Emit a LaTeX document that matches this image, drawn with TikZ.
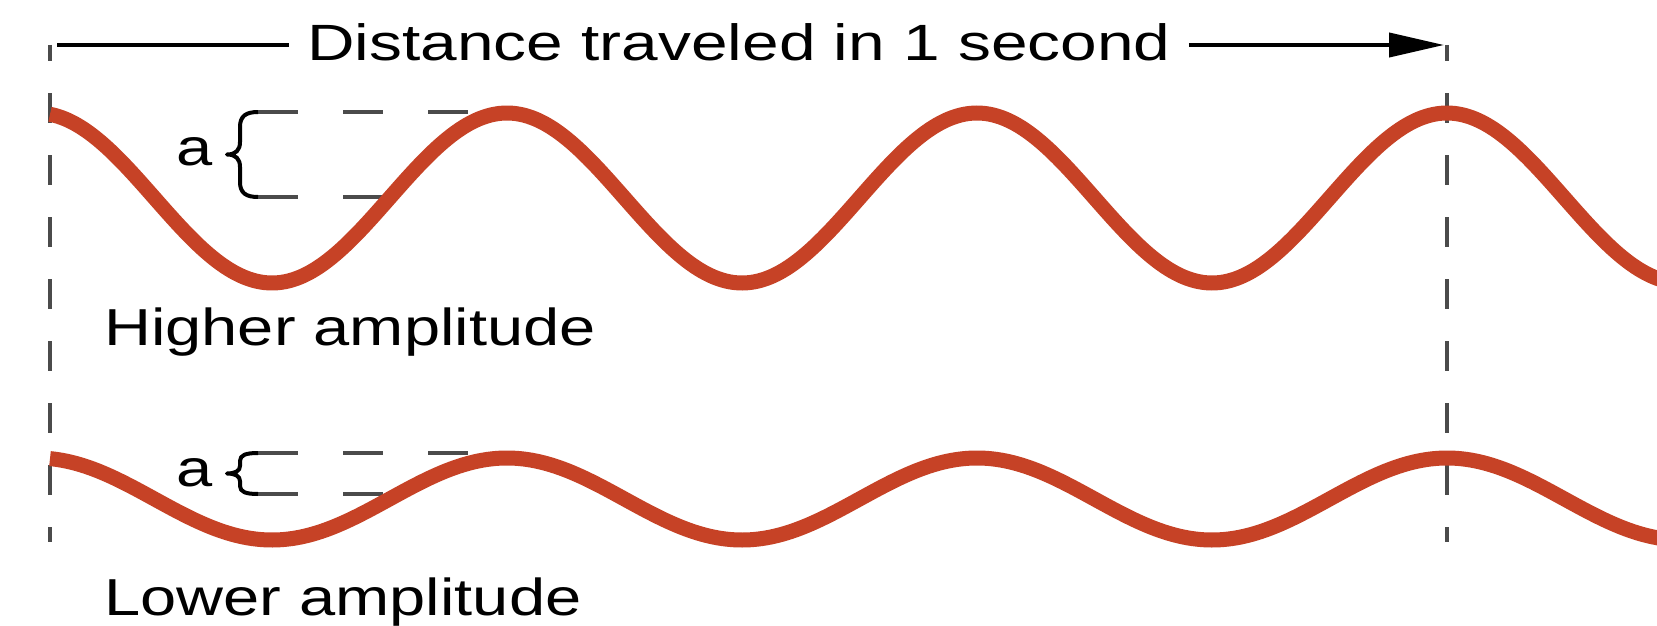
\documentclass[tikz,border=0pt]{standalone}
\usepackage{fontspec}
\setmainfont{Liberation Sans}
\usepackage{graphicx}
\usetikzlibrary{arrows.meta}
\definecolor{wavered}{RGB}{198,66,38}
\definecolor{guidegray}{RGB}{75,75,75}
\newcommand\widetext[2]{\scalebox{#1}[1]{#2}}
\begin{document}
\begin{tikzpicture}[x=1pt,y=-1pt,
  wave/.style={wavered, line width=15pt},
  vguide/.style={guidegray, line width=4pt, dash pattern=on 30pt off 32pt, dash phase=14pt},
  hguide/.style={guidegray, line width=3.5pt, dash pattern=on 40pt off 45pt},
  bracestyle/.style={black, line width=4pt, line join=round},
  lbl/.style={font=\fontsize{52}{60}\selectfont, inner sep=0pt, anchor=base},
  titlelbl/.style={font=\fontsize{51}{58}\selectfont, inner xsep=18pt, inner ysep=0pt, anchor=base},
  dimline/.style={black, line width=4pt}]
\useasboundingbox (0,0) rectangle (1657,626);
\fill[white] (0,0) rectangle (1657,626);
\clip (0,0) rectangle (1657,626);

% vertical guides
\draw[vguide] (50,45) -- (50,542);
\draw[vguide] (1447,45) -- (1447,542);

% amplitude guides (upper)
\draw[hguide] (258,112) -- (470,112);
\draw[hguide] (258,197) -- (390,197);
\draw[bracestyle] (258,112) .. controls (246,112) and (240,116) .. (240,127) -- (240,142)
  .. controls (240,150) and (236,154.5) .. (227,154.5)
  .. controls (236,154.5) and (240,159) .. (240,167) -- (240,182)
  .. controls (240,193) and (246,197) .. (258,197);

% amplitude guides (lower)
\draw[hguide] (258,453) -- (470,453);
\draw[hguide] (258,494) -- (390,494);
\draw[bracestyle] (258,453) .. controls (246,453) and (240,455) .. (240,461) -- (240,466)
  .. controls (240,471) and (235,473.5) .. (227,473.5)
  .. controls (235,473.5) and (240,476) .. (240,481) -- (240,486)
  .. controls (240,492) and (246,494) .. (258,494);

% waves
\draw[wave] plot[domain=50:1665, samples=400, smooth] (\x, {198-85*cos((\x-37)/470*360)});
\draw[wave] plot[domain=50:1665, samples=400, smooth] (\x, {499-41*cos((\x-37)/470*360)});

% title with dimension line
\node[titlelbl] (title) at (739,60) {\widetext{1.29}{Distance traveled in 1 second}};
\coordinate (dimL) at (57,45);
\coordinate (dimR) at (1444,45);
\draw[dimline] (dimL) -- (dimL -| title.west);
\draw[dimline, -{Triangle[length=55pt,width=24pt]}] (title.east |- dimR) -- (dimR);

% labels
\node[lbl] (a1) at (195,165) {\widetext{1.25}{a}};
\node[lbl] (a2) at (195,486) {\widetext{1.25}{a}};
\node[lbl] (hi) at (350,345) {\widetext{1.25}{Higher amplitude}};
\node[lbl] (lo) at (343,615) {\widetext{1.25}{Lower amplitude}};
\end{tikzpicture}
\end{document}
